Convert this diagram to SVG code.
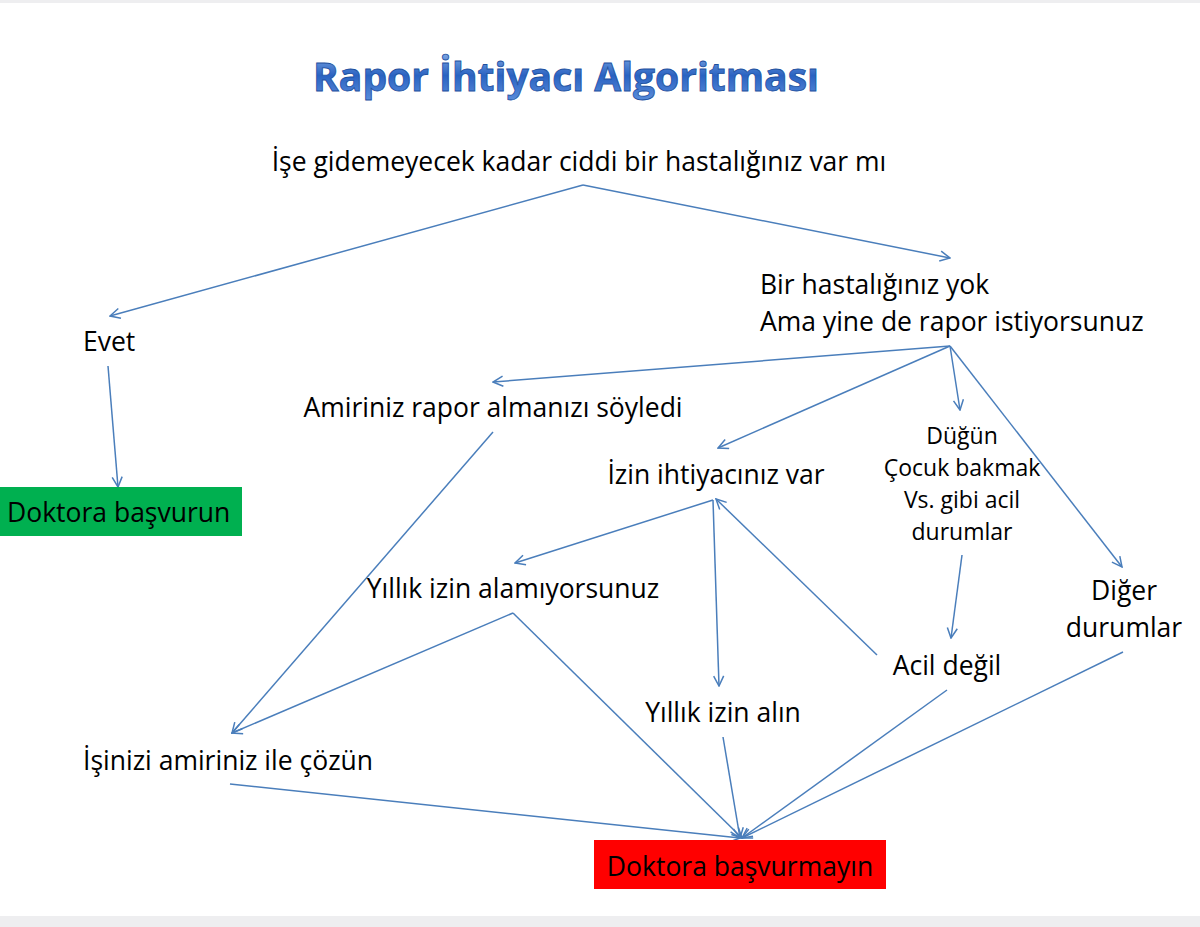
<svg xmlns="http://www.w3.org/2000/svg" width="1200" height="927" viewBox="0 0 1200 927">
<defs>
<linearGradient id="tg" x1="0" y1="0" x2="0" y2="1">
<stop offset="0" stop-color="#8fb4ea"/><stop offset="0.5" stop-color="#2a63c2"/><stop offset="1" stop-color="#5d8fdc"/>
</linearGradient>
<marker id="ar" viewBox="0 0 12 12" refX="11" refY="6" markerWidth="12" markerHeight="12" markerUnits="userSpaceOnUse" orient="auto">
<path d="M1,1 L11,6 L1,11" fill="none" stroke="#4a7ebb" stroke-width="1.5"/>
</marker>
<style>
text{font-family:"Open Sans","Liberation Sans",sans-serif;font-size:26.5px;fill:#000}
.s{font-size:23px}
.c line{stroke:#4a7ebb;stroke-width:1.5;marker-end:url(#ar)}
</style>
</defs>
<rect width="1200" height="927" fill="#fff"/>
<rect y="916" width="1200" height="11" fill="#eeeef0"/>
<rect y="0" width="1200" height="3" fill="#eeeef0"/>
<text x="566" y="91" text-anchor="middle" style="font-size:39px;font-weight:bold;fill:url(#tg);stroke:#1d4f9e;stroke-width:0.8">Rapor İhtiyacı Algoritması</text>
<g class="c">
<line x1="583" y1="185" x2="110" y2="316"/>
<line x1="583" y1="185" x2="950" y2="258"/>
<line x1="108" y1="366" x2="118" y2="487"/>
<line x1="950" y1="346" x2="493" y2="382"/>
<line x1="950" y1="346" x2="718" y2="448"/>
<line x1="950" y1="346" x2="960" y2="410"/>
<line x1="950" y1="346" x2="1122" y2="567"/>
<line x1="493" y1="432" x2="232" y2="733"/>
<line x1="713" y1="500" x2="515" y2="563"/>
<line x1="713" y1="500" x2="719" y2="686"/>
<line x1="877" y1="655" x2="716" y2="499"/>
<line x1="962" y1="555" x2="951" y2="638"/>
<line x1="513" y1="613" x2="232" y2="733"/>
<line x1="513" y1="613" x2="742" y2="838"/>
<line x1="723" y1="737" x2="740" y2="838"/>
<line x1="947" y1="690" x2="742" y2="838"/>
<line x1="1123" y1="652" x2="742" y2="838"/>
<line x1="230" y1="784" x2="740" y2="838"/>
</g>
<g id="q"><text x="579" y="171" text-anchor="middle">İşe gidemeyecek kadar ciddi bir hastalığınız var mı</text></g>
<g id="evet"><text x="83" y="351">Evet</text></g>
<g id="yok"><text x="760" y="294">Bir hastalığınız yok</text><text x="760" y="331">Ama yine de rapor istiyorsunuz</text></g>
<g id="dok"><rect x="0" y="487" width="242" height="49" fill="#00b050"/><text x="7" y="522">Doktora başvurun</text></g>
<g id="amir"><text x="493" y="417" text-anchor="middle">Amiriniz rapor almanızı söyledi</text></g>
<g id="izin"><text x="716" y="484" text-anchor="middle">İzin ihtiyacınız var</text></g>
<g id="dugun"><text class="s" x="962" y="444" text-anchor="middle">Düğün</text><text class="s" x="962" y="476" text-anchor="middle">Çocuk bakmak</text><text class="s" x="962" y="508" text-anchor="middle">Vs. gibi acil</text><text class="s" x="962" y="540" text-anchor="middle">durumlar</text></g>
<g id="diger"><text x="1124" y="600" text-anchor="middle">Diğer</text><text x="1124" y="637" text-anchor="middle">durumlar</text></g>
<g id="yillikal"><text x="513" y="598" text-anchor="middle">Yıllık izin alamıyorsunuz</text></g>
<g id="acil"><text x="947" y="675" text-anchor="middle">Acil değil</text></g>
<g id="yillik"><text x="723" y="722" text-anchor="middle">Yıllık izin alın</text></g>
<g id="isiniz"><text x="83" y="770">İşinizi amiriniz ile çözün</text></g>
<g id="hayir"><rect x="594" y="840" width="292" height="49" fill="#ff0000"/><text x="740" y="876" text-anchor="middle">Doktora başvurmayın</text></g>
</svg>
